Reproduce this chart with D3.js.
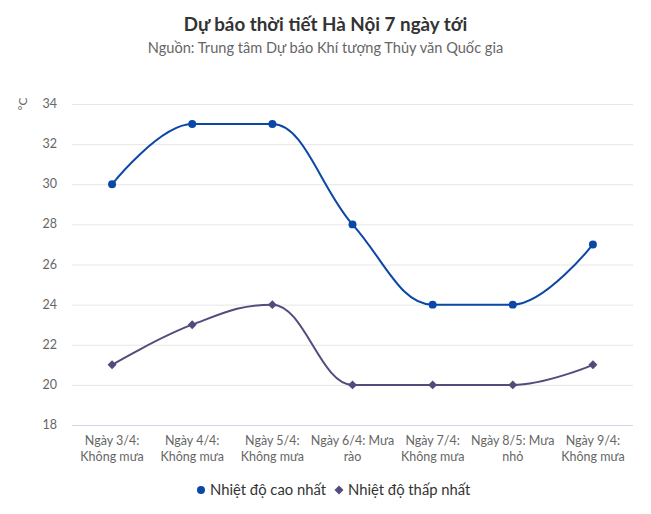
<!DOCTYPE html>
<html><head><meta charset="utf-8">
<script src="https://cdn.jsdelivr.net/npm/d3@7"></script>
<style>body{margin:0;background:#fff;}svg{font-family:Lato,"Noto Sans",sans-serif;}</style>
</head><body>
<svg id="c" width="651" height="514"></svg>
<script>
const categories = [["Ngày 3/4:","Không mưa"],["Ngày 4/4:","Không mưa"],["Ngày 5/4:","Không mưa"],["Ngày 6/4: Mưa","rào"],["Ngày 7/4:","Không mưa"],["Ngày 8/5: Mưa","nhỏ"],["Ngày 9/4:","Không mưa"]];
const highTemps = [30, 33, 33, 28, 24, 24, 27];
const lowTemps = [21, 23, 24, 20, 20, 20, 21];
const yTicks = [18, 20, 22, 24, 26, 28, 30, 32, 34];
const seriesNames = ["Nhiệt độ cao nhất", "Nhiệt độ thấp nhất"];
const colors = ["#0b47a6", "#524c7c"];

const svg = d3.select("#c");
const L = 72, R = 633, T = 104, B = 425;
const x = d3.scaleBand().domain(d3.range(categories.length)).range([L, R]);
const cx = i => x(i) + x.bandwidth()/2;
const y = d3.scaleLinear().domain([18, 34]).range([B, T]);

svg.append("text").attr("x", 325.5).attr("y", 31).attr("text-anchor","middle")
  .attr("font-size", 18.8).attr("font-weight", "bold").attr("fill", "#333").text("Dự báo thời tiết Hà Nội 7 ngày tới");
svg.append("text").attr("x", 325.5).attr("y", 53).attr("text-anchor","middle")
  .attr("font-size", 14.6).attr("fill", "#666").text("Nguồn: Trung tâm Dự báo Khí tượng Thủy văn Quốc gia");

// grid
svg.append("g").selectAll("line").data(yTicks.filter(d=>d!==18)).join("line")
  .attr("x1", L).attr("x2", R).attr("y1", d=>y(d)+0.5).attr("y2", d=>y(d)+0.5)
  .attr("stroke", "#e6e6e6");
svg.append("line").attr("x1", L).attr("x2", R).attr("y1", B+0.5).attr("y2", B+0.5).attr("stroke", "#ccd6eb");

svg.append("g").selectAll("text").data(yTicks).join("text")
  .attr("x", 57).attr("y", d=>y(d)+4).attr("text-anchor","end")
  .attr("font-size", 12.5).attr("fill", "#666").text(d=>d);
svg.append("text").attr("transform", "translate(27,104) rotate(-90)").attr("text-anchor","middle")
  .attr("font-size", 12).attr("fill", "#666").text("°C");

const xl = svg.append("g").selectAll("text").data(categories).join("text")
  .attr("text-anchor","middle").attr("font-size", 12.5).attr("fill", "#666");
xl.each(function(d,i){
  const t = d3.select(this);
  d.forEach((s,k)=>t.append("tspan").attr("x", cx(i)).attr("y", 445 + k*16).text(s));
});

function splinePath(vals){
  const pts = vals.map((v,i)=>[cx(i), y(v)]);
  const p = d3.path();
  const sm = 1.5, den = 2.5;
  const rc = [];
  pts.forEach((pt,i)=>{
    const [px,py] = pt;
    let lcx, lcy;
    if (i>0 && i<pts.length-1){
      const [lx,ly] = pts[i-1], [nx,ny] = pts[i+1];
      lcx = (sm*px+lx)/den; lcy = (sm*py+ly)/den;
      let rcx = (sm*px+nx)/den, rcy = (sm*py+ny)/den;
      let corr = 0;
      if (rcx !== lcx) corr = ((rcy-lcy)*(rcx-px))/(rcx-lcx) + py - rcy;
      lcy += corr; rcy += corr;
      if (lcy > ly && lcy > py){ lcy = Math.max(ly,py); rcy = 2*py-lcy; }
      else if (lcy < ly && lcy < py){ lcy = Math.min(ly,py); rcy = 2*py-lcy; }
      if (rcy > ny && rcy > py){ rcy = Math.max(ny,py); lcy = 2*py-rcy; }
      else if (rcy < ny && rcy < py){ rcy = Math.min(ny,py); lcy = 2*py-rcy; }
      rc[i] = [rcx, rcy];
    }
    if (i===0) p.moveTo(px,py);
    else {
      const r = rc[i-1] || pts[i-1];
      p.bezierCurveTo(r[0], r[1], lcx ?? px, lcy ?? py, px, py);
    }
  });
  return p.toString();
}

function marker(sel, s){
  if (s===0) sel.attr("d", d3.symbol(d3.symbolCircle, 50));
  else sel.attr("d", d3.symbol(d3.symbolSquare, 40)).attr("data-rot", 1);
}

[highTemps, lowTemps].forEach((vals, s)=>{
  svg.append("path").attr("d", splinePath(vals)).attr("fill","none")
    .attr("stroke", colors[s]).attr("stroke-width", 2);
  svg.append("g").selectAll("path").data(vals).join("path")
    .attr("transform", (d,i)=>`translate(${cx(i)},${y(d)})` + (s===1?" rotate(45)":""))
    .call(marker, s).attr("fill", colors[s]);
});

// legend
const leg = svg.append("g");
const items = [{x:201, tx:210}, {x:339, tx:348}];
items.forEach((it,s)=>{
  leg.append("path").attr("transform", `translate(${it.x},490)` + (s===1?" rotate(45)":""))
    .call(marker, s).attr("fill", colors[s]);
  leg.append("text").attr("x", it.tx).attr("y", 495).attr("font-size", 14.8)
    .attr("fill", "#333").text(seriesNames[s]);
});
</script>
</body></html>
